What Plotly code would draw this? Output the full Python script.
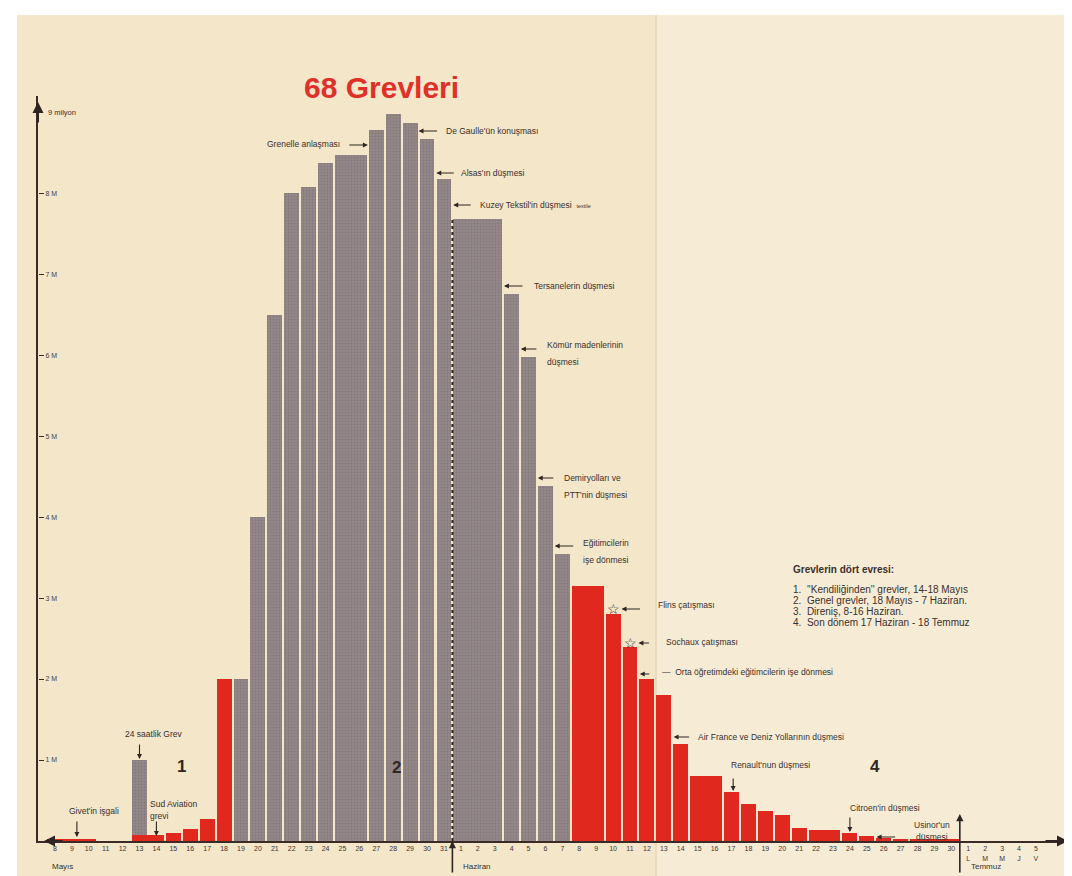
import plotly.graph_objects as go

# ---------------- DATA (milyon grevci, günlük) ----------------
mayis_gunleri = [8, 9, 10, 11, 12, 13, 14, 15, 16, 17, 18, 19, 20, 21, 22, 23, 24, 25, 26, 27, 28, 29, 30, 31]
haziran_gunleri = [1, 2, 3, 4, 5, 6, 7, 8, 9, 10, 11, 12, 13, 14, 15, 16, 17, 18, 19, 20, 21, 22, 23, 24, 25, 26, 27, 28, 29, 30]
temmuz_gunleri = [1, 2, 3, 4, 5]
temmuz_haftagunleri = ["L", "M", "M", "J", "V"]

# gray series (24 saatlik grev + genel grevler)
gri_mayis = [0, 0, 0, 0, 0, 1.0, 0, 0, 0, 0, 0, 2.0, 4.0, 6.5, 8.0, 8.08, 8.37, 8.47, 8.47, 8.78, 8.98, 8.87, 8.67, 8.17]
gri_haziran = [7.68, 7.68, 7.68, 6.76, 5.98, 4.38, 3.54, 0, 0, 0, 0, 0, 0, 0, 0, 0, 0, 0, 0, 0, 0, 0, 0, 0, 0, 0, 0, 0, 0, 0]
gri_temmuz = [0, 0, 0, 0, 0]

# red series (kendiliğinden grevler, direniş, son dönem)
kirmizi_mayis = [0.03, 0.03, 0.03, 0, 0, 0.07, 0.07, 0.1, 0.15, 0.27, 2.0, 0, 0, 0, 0, 0, 0, 0, 0, 0, 0, 0, 0, 0]
kirmizi_haziran = [0, 0, 0, 0, 0, 0, 0, 3.15, 3.15, 2.8, 2.4, 2.0, 1.8, 1.2, 0.8, 0.8, 0.6, 0.46, 0.37, 0.32,
                   0.16, 0.13, 0.13, 0.1, 0.06, 0.04, 0.03, 0.015, 0.015, 0.015]
kirmizi_temmuz = [0, 0, 0, 0, 0]

y_tick_vals = [1, 2, 3, 4, 5, 6, 7, 8]
y_tick_text = ["1 M", "2 M", "3 M", "4 M", "5 M", "6 M", "7 M", "8 M"]

evreler = [
    "1.  ''Kendiliğinden'' grevler, 14-18 Mayıs",
    "2.  Genel grevler, 18 Mayıs - 7 Haziran.",
    "3.  Direniş, 8-16 Haziran.",
    "4.  Son dönem 17 Haziran - 18 Temmuz",
]

# ---------------- derived ----------------
gri = gri_mayis + gri_haziran + gri_temmuz
kirmizi = kirmizi_mayis + kirmizi_haziran + kirmizi_temmuz
tick_text = ([str(d) for d in mayis_gunleri] + [str(d) for d in haziran_gunleri]
             + [f"{d}<br>{w}" for d, w in zip(temmuz_gunleri, temmuz_haftagunleri)])
tick_vals = list(range(len(tick_text)))
IDX_HAZ = len(mayis_gunleri)                 # index of 1 June
IDX_TEM = IDX_HAZ + len(haziran_gunleri)     # index of 1 July


def haz(d):
    return IDX_HAZ + d - 1


def may(d):
    return d - mayis_gunleri[0]


def gruplar(vals):
    """merge consecutive identical days into one wide bar"""
    out = []
    i = 0
    while i < len(vals):
        v = vals[i]
        if v == 0:
            i += 1
            continue
        j = i
        while j + 1 < len(vals) and vals[j + 1] == v:
            j += 1
        out.append(((i + j) / 2, j - i + 1, v))
        i = j + 1
    return out


GAP = 0.12
RED = "#e1281f"
GRAY = "#938789"
INK = "#3a302d"

fig = go.Figure()
g = gruplar(gri)
fig.add_trace(go.Bar(
    x=[c for c, n, v in g], y=[v for c, n, v in g], width=[n - GAP for c, n, v in g],
    marker=dict(color=GRAY, line_width=0,
                pattern=dict(shape=".", fgcolor="#75696b", size=3, solidity=0.3, fillmode="overlay")),
    hoverinfo="skip"))
r = gruplar(kirmizi)
fig.add_trace(go.Bar(
    x=[c for c, n, v in r], y=[v for c, n, v in r], width=[n - GAP for c, n, v in r],
    marker=dict(color=RED, line_width=0), hoverinfo="skip", yaxis="y2"))

W, H = 1072, 876
L, R, T, B = 30, 17, 88, 43
YMAX = 9.2


def pxr(x):
    return (x - L) / (W - L - R)


def pyr(y):
    return (H - B - y) / (H - T - B)


shapes = [
    dict(type="rect", xref="paper", yref="paper", x0=pxr(9), x1=pxr(648), y0=pyr(870), y1=pyr(7),
         fillcolor="#f3e6c9", line_width=0, layer="below"),
    dict(type="rect", xref="paper", yref="paper", x0=pxr(648), x1=pxr(1065), y0=pyr(870), y1=pyr(7),
         fillcolor="#f6ecd5", line_width=0, layer="below"),
    dict(type="line", xref="paper", yref="paper", x0=pxr(648), x1=pxr(648), y0=pyr(870), y1=pyr(7),
         line=dict(color="#e4d6b8", width=1.5), layer="below"),
    # dotted June boundary
    dict(type="line", xref="x", yref="y", x0=IDX_HAZ - 0.5, x1=IDX_HAZ - 0.5, y0=0, y1=gri[IDX_HAZ],
         line=dict(color="#2e2422", width=2, dash="dot"), layer="above"),
]

ann = []
FS = 8.5
FONT = "Liberation Sans, Arial, sans-serif"


def ok(x, y, ax, ay, w=1.1, size=0.9, color="#2e2624"):
    ann.append(dict(x=x, y=y, xref="x", yref="y", ax=ax, ay=ay, text="", showarrow=True,
                    arrowhead=2, arrowsize=size, arrowwidth=w, arrowcolor=color))


def yazi(x, y, text, xanchor="left", xshift=0, size=FS, color=INK, bold=False, xref="x", yref="y"):
    if bold:
        text = f"<b>{text}</b>"
    ann.append(dict(x=x, y=y, xref=xref, yref=yref, text=text, showarrow=False, xanchor=xanchor,
                    yanchor="middle", xshift=xshift, font=dict(size=size, color=color, family=FONT)))


def v(ypix):
    return (H - B - ypix) * YMAX / (H - T - B)


# title
yazi(pxr(373), pyr(80), "68 Grevleri", xanchor="center", size=30, color="#e0302a", bold=True,
     xref="paper", yref="paper")

# axis decorations
ann.append(dict(x=0, y=pyr(94), xref="paper", yref="paper", ax=0, ay=22, text="", showarrow=True,
                arrowhead=2, arrowsize=1.1, arrowwidth=2, arrowcolor="#2e2422"))
ann.append(dict(x=pxr(1060), y=0, xref="paper", yref="paper", ax=-24, ay=0, text="", showarrow=True,
                arrowhead=2, arrowsize=1.1, arrowwidth=2, arrowcolor="#2e2422"))
ann.append(dict(x=pxr(36), y=0, xref="paper", yref="paper", ax=20, ay=0, text="", showarrow=True,
                arrowhead=2, arrowsize=1.1, arrowwidth=2, arrowcolor="#2e2422"))
yazi(pxr(38), 9.0, "9 milyon", size=7.5, xref="paper")
ok(IDX_HAZ - 0.5, 0, 0, 33, w=1.6)
ok(IDX_TEM - 0.5, v(806), 0, 60, w=1.6)
yazi(pxr(42), pyr(858), "Mayıs", size=8, xref="paper", yref="paper")
yazi(IDX_HAZ - 0.5, pyr(858), "Haziran", size=8, xshift=9, yref="paper")
yazi(IDX_TEM - 0.5, pyr(858), "Temmuz", size=8, xshift=9, yref="paper")

# phase numbers
yazi(may(15) + 0.5, v(758), "1", xanchor="center", size=17, bold=True, color="#2f2725")
yazi(may(28) + 0.2, v(759), "2", xanchor="center", size=17, bold=True, color="#2f2725")
yazi(haz(25) + 0.5, v(758), "4", xanchor="center", size=17, bold=True, color="#2f2725")

# events
ok(may(9) + 0.3, v(829), 0, -17)
yazi(may(9) + 0.3, v(803), "Givet'in işgali", xanchor="center", xshift=17)

ok(may(13), v(751), 0, -16)
yazi(may(13), v(726), "24 saatlik Grev", xanchor="center", xshift=14)

ok(may(14), v(828), 0, -16)
yazi(may(14), v(796), "Sud Aviation", xshift=-8)
yazi(may(14), v(808), "grevi", xshift=-8)

ok(may(27) - 0.5, v(137), -20, 0)
yazi(may(27) - 0.5, v(136), "Grenelle anlaşması", xanchor="right", xshift=-26)

ok(may(29) + 0.5, v(123), 20, 0)
yazi(may(29) + 0.5, v(123), "De Gaulle'ün konuşması", xshift=25)

ok(may(30) + 0.55, v(165), 19, 0)
yazi(may(30) + 0.55, v(165), "Alsas'ın düşmesi", xshift=23)

ok(may(31) + 0.55, v(197), 19, 0)
yazi(may(31) + 0.55, v(197), "Kuzey Tekstil'in düşmesi  <span style='font-size:5.5px'>textile</span>", xshift=25)

ok(haz(3) + 0.55, v(278), 20, 0)
yazi(haz(3) + 0.55, v(278), "Tersanelerin düşmesi", xshift=28)

ok(haz(4) + 0.55, v(341), 17, 0)
yazi(haz(4) + 0.55, v(337), "Kömür madenlerinin", xshift=24)
yazi(haz(4) + 0.55, v(354), "düşmesi", xshift=24)

ok(haz(5) + 0.55, v(470), 17, 0)
yazi(haz(5) + 0.55, v(470), "Demiryolları ve", xshift=24)
yazi(haz(5) + 0.55, v(487), "PTT'nin düşmesi", xshift=24)

ok(haz(6) + 0.55, v(538), 20, 0)
yazi(haz(6) + 0.55, v(535), "Eğitimcilerin", xshift=26)
yazi(haz(6) + 0.55, v(552), "işe dönmesi", xshift=26)

yazi(haz(10), v(601), "☆", xanchor="center", size=14, color="#2a2220")
ok(haz(10) + 0.5, v(601), 20, 0)
yazi(haz(10), v(597), "Flins çatışması", xshift=43)

yazi(haz(11), v(635), "☆", xanchor="center", size=14, color="#2a2220")
ok(haz(11) + 0.5, v(635), 12, 0)
yazi(haz(11), v(634), "Sochaux çatışması", xshift=34)

ok(haz(11) + 0.58, v(666), 11, 0)
yazi(haz(11) + 0.58, v(664), "—  Orta öğretimdeki eğitimcilerin işe dönmesi", xshift=20)

ok(haz(13) + 0.58, v(729), 17, 0)
yazi(haz(13) + 0.58, v(729), "Air France ve Deniz Yollarının düşmesi", xshift=22)

ok(haz(17) + 0.1, v(783), 0, -14)
yazi(haz(17), v(757), "Renault'nun düşmesi", xshift=-2)

ok(haz(24), v(824), 0, -16)
yazi(haz(24), v(800), "Citroen'in düşmesi", xshift=-2)

ok(haz(25) + 0.58, v(829), 20, 0)
yazi(haz(25) + 0.58, v(817), "Usinor'un", xanchor="center", xshift=55)
yazi(haz(25) + 0.58, v(829), "düşmesi", xanchor="center", xshift=55)

# phases box
yazi(pxr(783), pyr(561), "Grevlerin dört evresi:", size=10, bold=True, xref="paper", yref="paper")
for k, line in enumerate(evreler):
    yazi(pxr(783), pyr(581 + 11.3 * k), line, size=10, xref="paper", yref="paper")

fig.update_layout(
    width=W, height=H, margin=dict(l=L, r=R, t=T, b=B),
    paper_bgcolor="white", plot_bgcolor="rgba(0,0,0,0)",
    barmode="overlay", bargap=0, showlegend=False,
    font=dict(family=FONT, color=INK),
    shapes=shapes, annotations=ann,
    xaxis=dict(range=[-1, len(tick_vals) + 0.6], tickmode="array", tickvals=tick_vals, ticktext=tick_text,
               tickfont=dict(size=7, color="#3f3431"), showgrid=False, zeroline=False,
               showline=True, linecolor="#3b2a26", linewidth=2, ticks="", fixedrange=True),
    yaxis=dict(range=[0, YMAX], showticklabels=False, ticks="", showgrid=False, zeroline=False,
               showline=True, linecolor="#3b2a26", linewidth=2, fixedrange=True),
    # tick labels to the right of the vertical axis line
    yaxis2=dict(range=[0, YMAX], overlaying="y", anchor="free", position=0, side="right",
                tickmode="array", tickvals=y_tick_vals, ticktext=y_tick_text,
                ticks="outside", ticklen=5, tickcolor="#3b2a26", tickwidth=1,
                tickfont=dict(size=7, color="#4a3f3c"), showgrid=False, zeroline=False,
                showline=False, fixedrange=True),
)

fig.write_html("out.html")
